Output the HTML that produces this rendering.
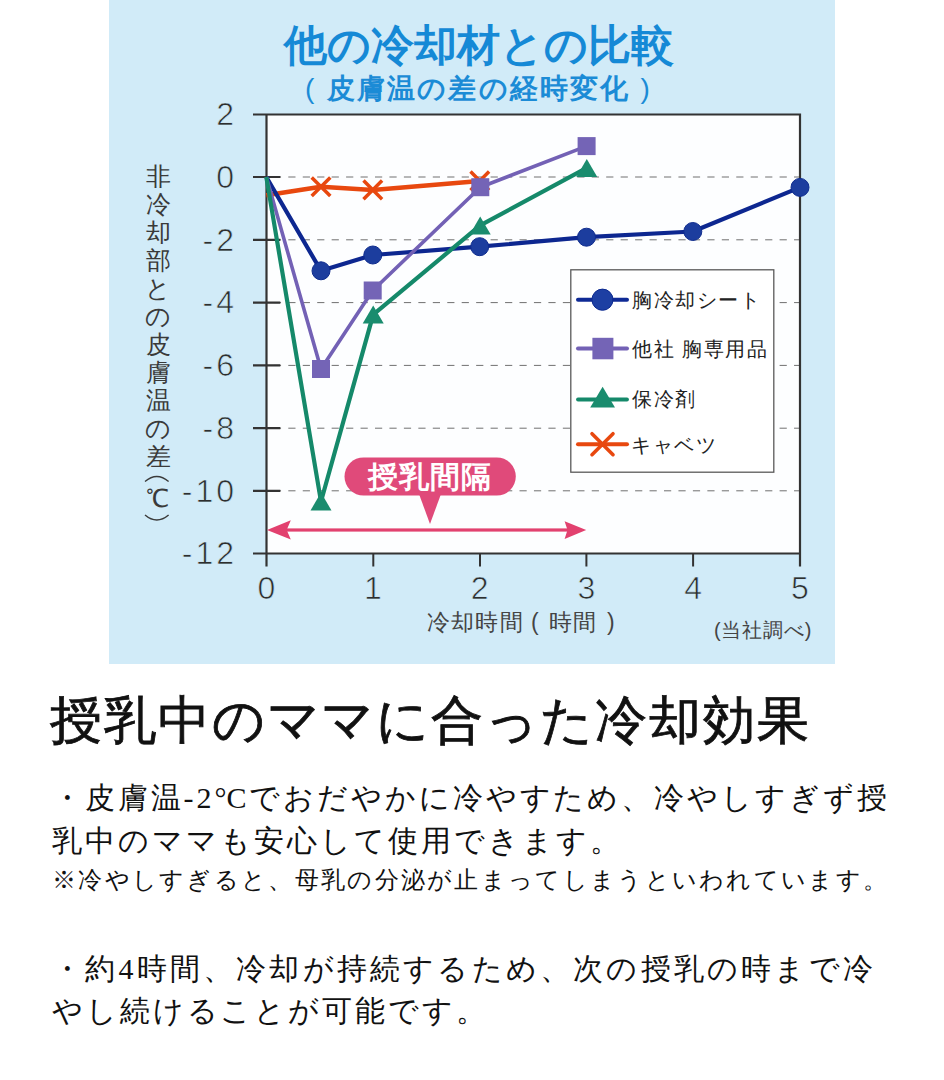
<!DOCTYPE html>
<html lang="ja">
<head>
<meta charset="utf-8">
<style>
html,body{margin:0;padding:0;background:#fff;}
body{width:944px;height:1080px;position:relative;overflow:hidden;font-family:"Liberation Sans",sans-serif;}
#panel{position:absolute;left:109px;top:0;width:726px;height:664px;background:#d1ebf8;}
svg{position:absolute;left:0;top:0;}
.t{position:absolute;white-space:nowrap;line-height:1;}
.title{left:284px;top:24px;font-size:43px;font-weight:bold;color:#1589d6;}
.sub{left:305px;top:75px;font-size:28px;color:#1b8bd6;letter-spacing:2.2px;font-weight:bold;}
.xtitle{left:427px;top:611px;font-size:23px;color:#444;letter-spacing:1.2px;}
.note1{left:714px;top:620px;font-size:20px;color:#444;letter-spacing:0.8px;}
.serif{font-family:"Liberation Serif",serif;color:#111;}
.h{left:50px;top:695px;font-size:52px;letter-spacing:1.9px;-webkit-text-stroke:0.8px #111;}
.p{font-size:30px;letter-spacing:3.2px;left:52px;}
.n{font-size:24px;letter-spacing:2.3px;left:52px;}
</style>
</head>
<body>
<div id="panel"></div>
<svg width="944" height="664" viewBox="0 0 944 664" font-family="Liberation Sans, sans-serif">
  <!-- plot background -->
  <rect x="266.5" y="114.5" width="533.5" height="439" fill="#fdfeff"/>
  <!-- grid -->
  <g stroke="#707070" stroke-width="1" stroke-dasharray="7.2 7.25">
    <line x1="273.85" y1="177" x2="799" y2="177"/>
    <line x1="273.85" y1="239.8" x2="799" y2="239.8"/>
    <line x1="273.85" y1="302.6" x2="799" y2="302.6"/>
    <line x1="273.85" y1="365.4" x2="799" y2="365.4"/>
    <line x1="273.85" y1="428.2" x2="799" y2="428.2"/>
    <line x1="273.85" y1="490.8" x2="799" y2="490.8"/>
  </g>
  <!-- axes/frame -->
  <g stroke="#333" stroke-width="2.2" fill="none">
    <path d="M253 114.5H800V566.5"/>
    <path d="M266.5 114.5V566.5"/>
    <path d="M253 553.5H800"/>
    <path d="M253 177H280.3M253 239.8H280.3M253 302.6H280.3M253 365.4H280.3M253 428.2H280.3M253 490.8H280.3"/>
    <path d="M373.3 553.5V566.5M480 553.5V566.5M586.4 553.5V566.5M693.1 553.5V566.5" stroke-width="2"/>
  </g>
  <!-- y labels -->
  <g font-size="32" fill="#2e2e2e" text-anchor="end" letter-spacing="3" stroke="#d1ebf8" stroke-width="0.7">
    <text x="237" y="125">2</text>
    <text x="237" y="188">0</text>
    <text x="237" y="250.5">-2</text>
    <text x="237" y="313.3">-4</text>
    <text x="237" y="376">-6</text>
    <text x="237" y="438.7">-8</text>
    <text x="237" y="501.5">-10</text>
    <text x="237" y="564.2">-12</text>
  </g>
  <!-- x labels -->
  <g font-size="32" fill="#2e2e2e" text-anchor="middle" stroke="#d1ebf8" stroke-width="0.7">
    <text x="266.3" y="598.5">0</text>
    <text x="373" y="598.5">1</text>
    <text x="479.7" y="598.5">2</text>
    <text x="586.4" y="598.5">3</text>
    <text x="693.1" y="598.5">4</text>
    <text x="800" y="598.5">5</text>
  </g>
  <!-- series: orange -->
  <g stroke="#e8480f" stroke-width="4.5" fill="none" stroke-linejoin="round">
    <polyline points="266.3,195.3 321,186.7 372.8,189.9 479.8,180.9"/>
    <path d="M311.7 177.4L330.3 196M311.7 196L330.3 177.4M363.5 180.6L382.1 199.2M363.5 199.2L382.1 180.6M470.5 171.6L489.1 190.2M470.5 190.2L489.1 171.6" stroke-width="3.5"/>
  </g>
  <!-- blue -->
  <g>
    <polyline points="266.3,177 321,270.8 372.8,255 479.7,246.7 586.5,237.2 692.8,231.5 800,187.4" stroke="#0d2790" stroke-width="4.2" fill="none" stroke-linejoin="round"/>
    <g fill="#1c3d9e" stroke="#0f2c8e" stroke-width="1">
      <circle cx="321" cy="270.8" r="9"/>
      <circle cx="372.8" cy="255" r="9"/>
      <circle cx="479.7" cy="246.7" r="9"/>
      <circle cx="586.5" cy="237.2" r="9"/>
      <circle cx="692.8" cy="231.5" r="9"/>
      <circle cx="800" cy="187.4" r="9"/>
    </g>
  </g>
  <!-- purple -->
  <g>
    <polyline points="266.3,177 321,369 372.7,290.5 480.3,187.2 586.6,146.1" stroke="#7361b5" stroke-width="3.6" fill="none" stroke-linejoin="round"/>
    <g fill="#7464b6">
      <rect x="312" y="360" width="18" height="18"/>
      <rect x="363.7" y="281.5" width="18" height="18"/>
      <rect x="471.3" y="178.2" width="18" height="18"/>
      <rect x="577.6" y="137.1" width="18" height="18"/>
    </g>
  </g>
  <!-- green -->
  <g>
    <polyline points="266.3,177 321,501.5 373.2,314.6 480.2,225.4 586.8,167.9" stroke="#15896a" stroke-width="4.2" fill="none" stroke-linejoin="round"/>
    <g fill="#1a8c6e">
      <path d="M321 492.5L331.5 510.5H310.5Z"/>
      <path d="M373.2 305.6L383.7 323.6H362.7Z"/>
      <path d="M480.2 216.4L490.7 234.4H469.7Z"/>
      <path d="M586.8 158.9L597.3 176.9H576.3Z"/>
    </g>
  </g>
  <!-- legend -->
  <rect x="570.8" y="269.8" width="203" height="202.4" fill="#fff" stroke="#5a5a5a" stroke-width="1.3"/>
  <g stroke-linecap="round">
    <line x1="578" y1="299.7" x2="627" y2="299.7" stroke="#0f2a95" stroke-width="4"/>
    <circle cx="602.5" cy="299.7" r="10.6" fill="#1d3fa3" stroke="#0d2a90" stroke-width="1"/>
    <line x1="578" y1="348.5" x2="627" y2="348.5" stroke="#7361b5" stroke-width="4"/>
    <rect x="592.4" y="337.8" width="21" height="21.5" fill="#7464b6"/>
    <line x1="578" y1="399.5" x2="627" y2="399.5" stroke="#15896a" stroke-width="3.8"/>
    <path d="M602.6 386.7L615 407.5H590.2Z" fill="#1a8c6e"/>
    <line x1="578" y1="444.2" x2="627" y2="444.2" stroke="#e8480f" stroke-width="4"/>
    <path d="M592 433.7L613 454.7M592 454.7L613 433.7" stroke="#e8480f" stroke-width="3.6"/>
  </g>
  <g font-size="20" fill="#222" letter-spacing="1.5">
    <text x="632" y="306.5">胸冷却シート</text>
    <text x="632" y="355.5">他社 胸専用品</text>
    <text x="632" y="406">保冷剤</text>
    <text x="631" y="451.5">キャベツ</text>
  </g>
  <!-- bubble -->
  <g fill="#e04a7a">
    <rect x="344.5" y="457.4" width="171.3" height="38.2" rx="19.1"/>
    <path d="M419 494L441 494L430 524Z"/>
  </g>
  <text x="429.5" y="487" font-size="30" font-weight="bold" fill="#fff" text-anchor="middle" letter-spacing="1">授乳間隔</text>
  <!-- double arrow -->
  <g fill="#e2416f">
    <rect x="285" y="528.4" width="284" height="3.2"/>
    <path d="M267 530L290.8 520.3L286.7 530L290.8 539.6Z"/>
    <path d="M586.2 530L564.6 521.2L567.5 530L564.6 539Z"/>
  </g>
  <!-- y title -->
  <g font-size="24.5" fill="#3a3a3a" text-anchor="middle">
    <text x="158.3" y="185.0">非</text>
    <text x="158.3" y="213.0">冷</text>
    <text x="158.3" y="241.0">却</text>
    <text x="158.3" y="269.0">部</text>
    <text x="158.3" y="297.0">と</text>
    <text x="158.3" y="325.0">の</text>
    <text x="158.3" y="353.0">皮</text>
    <text x="158.3" y="381.0">膚</text>
    <text x="158.3" y="409.0">温</text>
    <text x="158.3" y="437.0">の</text>
    <text x="158.3" y="465.0">差</text>
    <text x="157" y="507">℃</text>
  </g>
  <g stroke="#3a3a3a" stroke-width="1.4" fill="none">
    <path d="M145 481.5Q156.8 471.5 168.6 481.5"/>
    <path d="M145 515Q156.8 525 168.6 515"/>
  </g>
</svg>
<div class="t title">他の冷却材との比較</div>
<div class="t sub"><span style="font-weight:normal">(</span>&nbsp;皮膚温の差の経時変化&nbsp;<span style="font-weight:normal">)</span></div>
<div class="t xtitle">冷却時間</div><div class="t xtitle" style="left:531px">(</div><div class="t xtitle" style="left:549px">時間</div><div class="t xtitle" style="left:607px">)</div>
<div class="t note1">(当社調べ)</div>

<div class="t serif h">授乳中のママに合った冷却効果</div>
<div class="t serif p" style="top:783px;letter-spacing:2.9px">・皮膚温-2<span style="letter-spacing:0">°</span>Cでおだやかに冷やすため、冷やしすぎず授</div>
<div class="t serif p" style="top:826px;letter-spacing:3px">乳中のママも安心して使用できます。</div>
<div class="t serif n" style="top:868px">※冷やしすぎると、母乳の分泌が止まってしまうといわれています。</div>
<div class="t serif p" style="top:954px">・約4時間、冷却が持続するため、次の授乳の時まで冷</div>
<div class="t serif p" style="top:996px;letter-spacing:2.9px">やし続けることが可能です。</div>
</body>
</html>
